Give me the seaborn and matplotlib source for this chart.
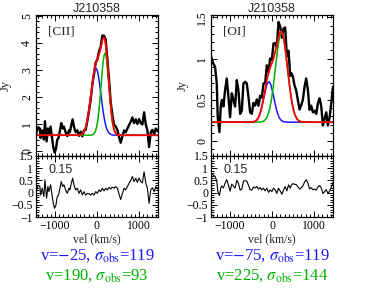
import numpy as np
import pandas as pd
import seaborn as sns
import matplotlib
matplotlib.use("Agg")
import matplotlib.pyplot as plt
from matplotlib.ticker import MultipleLocator, FuncFormatter

sns.set_style("ticks")
plt.rcParams["font.family"] = ["Liberation Serif", "DejaVu Serif"]
plt.rcParams["mathtext.fontset"] = "stix"
plt.rcParams["axes.edgecolor"] = "black"
plt.rcParams["xtick.color"] = "black"
plt.rcParams["ytick.color"] = "black"

# ---------------- data ----------------
title = "J210358"
lines = ["[CII]", "[OI]"]
rms_text = ["0.15", "0.15"]

# continuum level and Gaussian components (v, sigma_obs from the labels; amplitudes read)
cont = [0.58, 0.23]
blue_v = [-25, -75]
blue_sig = [119, 119]
blue_amp = [2.48, 0.49]
green_v = [190, 225]
green_sig = [93, 144]
green_amp = [3.04, 1.08]

# [CII] residual spectrum (data - model)
cii_vel = [-1450, -1400, -1357, -1341, -1302, -1262, -1238, -1198, -1167, -1143, -1103, -1063,
           -1040, -1008, -976, -944, -913, -881, -849, -817, -786, -746, -706,
           -667, -643, -611, -579, -548, -508, -468, -429, -389, -349, -310,
           -270, -230, -190, -151, -111, -71, -32, 8, 48, 87, 127, 167, 206,
           246, 286, 325, 365, 405, 444, 484, 524, 563, 603, 643, 683, 722,
           762, 802, 841, 881, 921, 960, 1000, 1040, 1079, 1119, 1159, 1198,
           1238, 1278, 1317, 1357, 1397, 1437, 1450]
cii_res = [0.05, 0.30, 0.25, -0.10, 0.18, -0.16, 0.52, -0.23, 0.25, 0.04, 0.32, -0.16,
           -0.44, -0.64, -0.51, -0.16, -0.10, 0.18, 0.45, 0.25, 0.32, 0.11, -0.03,
           0.18, 0.11, 0.38, 0.59, 0.32, 0.11, 0.18, -0.03, 0.11, -0.10, 0.04,
           -0.10, -0.03, -0.05, -0.10, -0.03, -0.10, 0.04, -0.03, 0.11, 0.04, 0.18, 0.07, 0.18,
           0.11, 0.21, 0.15, 0.22, 0.18, 0.25, 0.18, -0.07, -0.28, -0.05, 0.18, 0.11, 0.25,
           0.38, 0.50, 0.66, 0.45, 0.59, 0.42, 0.60, 0.45, 0.40, 0.85, 0.40, 0.18,
           -0.44, 0.11, 0.20, 0.04, 0.25, 0.15, 0.20]

# [OI] residual spectrum (data - model)
oi_vel = [-1450, -1433, -1393, -1353, -1313, -1290, -1250, -1218, -1194, -1155, -1115, -1075,
          -1036, -996, -956, -917, -877, -837, -798, -758, -718, -679, -639,
          -599, -560, -520, -480, -440, -401, -361, -321, -282, -242, -202,
          -163, -123, -83, -44, -4, 36, 75, 115, 155, 194, 234, 274, 313,
          353, 393, 433, 457, 496, 536, 575, 615, 655, 694, 734, 774, 813,
          853, 893, 932, 972, 1012, 1052, 1091, 1131, 1171, 1210, 1250, 1290,
          1329, 1369, 1409, 1450]
oi_res = [0.80, 0.77, 0.71, 0.67, 0.47, 0.06, -0.12, 0.19, 0.27, 0.19, 0.39, 0.53,
          0.31, 0.06, 0.35, 0.27, 0.19, 0.51, 0.39, 0.10, 0.14, 0.47, 0.49,
          0.47, 0.31, 0.12, 0.10, 0.23, 0.19, 0.25, 0.14, 0.21, 0.11, 0.18,
          0.07, 0.18, 0.01, 0.11, 0.04, 0.18, 0.11, -0.03, 0.18, 0.07, -0.07, 0.11, 0.25,
          0.07, 0.32, 0.18, 0.30, 0.37, 0.34, 0.33, 0.24, 0.14, 0.20, 0.27, 0.43, 0.53,
          0.39, 0.15, 0.20, 0.12, 0.14, 0.10, 0.23, 0.29, 0.19, -0.04, 0.04, 0.12,
          -0.04, 0.06, 0.23, 0.43]

vels = [cii_vel, oi_vel]
resids = [cii_res, oi_res]
top_ylims = [(-0.19, 5.04), (-0.18, 1.53)]
top_major = [1, 0.5]
top_minor = [0.2, 0.1]
xlim = (-1450, 1450)
v_lbl = [(r"v=$-$25, $\sigma_{\rm obs}$=119", r"v=190, $\sigma_{\rm obs}$=93"),
         (r"v=$-$75, $\sigma_{\rm obs}$=119", r"v=225, $\sigma_{\rm obs}$=144")]

BLUE = "#1a1aff"
GREEN = "#00b000"
RED = "#ff0000"


def gauss(v, amp, mu, sig):
    return amp * np.exp(-(np.asarray(v, float) - mu) ** 2 / (2.0 * sig ** 2))


def fmt(x, pos):
    s = "%g" % x
    return s.replace("-", "\u2212")


W, H = 373, 295
fig = plt.figure(figsize=(W / 100, H / 100), dpi=100)

left_px = [36, 211]
width_px = 122
for i in range(2):
    x0 = left_px[i] / W
    w = width_px / W
    ax = fig.add_axes([x0, 1 - 156 / H, w, (156 - 15) / H])
    axr = fig.add_axes([x0, 1 - 217 / H, w, (217 - 156) / H])

    vel = np.asarray(vels[i], float)
    res = np.asarray(resids[i], float)
    model_at = cont[i] + gauss(vel, blue_amp[i], blue_v[i], blue_sig[i]) + \
        gauss(vel, green_amp[i], green_v[i], green_sig[i])
    flux = model_at + res

    grid = np.linspace(xlim[0], xlim[1], 700)
    b = cont[i] + gauss(grid, blue_amp[i], blue_v[i], blue_sig[i])
    g = cont[i] + gauss(grid, green_amp[i], green_v[i], green_sig[i])
    r = cont[i] + gauss(grid, blue_amp[i], blue_v[i], blue_sig[i]) + \
        gauss(grid, green_amp[i], green_v[i], green_sig[i])

    df = pd.DataFrame({"vel": vel, "flux": flux, "res": res})
    sns.lineplot(data=df, x="vel", y="flux", ax=ax, color="black", lw=1.7, estimator=None)
    sns.lineplot(x=grid, y=b, ax=ax, color=BLUE, lw=1.1, estimator=None)
    sns.lineplot(x=grid, y=g, ax=ax, color=GREEN, lw=1.1, estimator=None)
    sns.lineplot(x=grid, y=r, ax=ax, color=RED, lw=1.3, estimator=None)
    sns.lineplot(data=df, x="vel", y="res", ax=axr, color="black", lw=0.8, estimator=None)

    ax.set_xlim(*xlim)
    axr.set_xlim(*xlim)
    ax.set_ylim(*top_ylims[i])
    axr.set_ylim(-1, 1.5)

    for a in (ax, axr):
        a.xaxis.set_major_locator(MultipleLocator(1000))
        a.xaxis.set_minor_locator(MultipleLocator(100))
        a.tick_params(which="both", direction="in", top=True, right=True, width=0.7)
        a.tick_params(which="major", length=4)
        a.tick_params(which="minor", length=2)
        for sp in a.spines.values():
            sp.set_linewidth(0.9)
            sp.set_color("black")
        a.set_xlabel("")
        a.set_ylabel("")
    ax.yaxis.set_major_locator(MultipleLocator(top_major[i]))
    ax.yaxis.set_minor_locator(MultipleLocator(top_minor[i]))
    ax.yaxis.set_major_formatter(FuncFormatter(fmt))
    ax.tick_params(axis="y", labelrotation=90, labelsize=8.5, pad=2)
    ax.tick_params(axis="x", labelbottom=False)
    for lab in ax.get_yticklabels():
        lab.set_va("center")
    axr.yaxis.set_major_locator(MultipleLocator(0.5))
    axr.yaxis.set_minor_locator(MultipleLocator(0.1))
    axr.yaxis.set_major_formatter(FuncFormatter(fmt))
    axr.xaxis.set_major_formatter(FuncFormatter(fmt))
    axr.tick_params(axis="both", labelsize=8.5, pad=2)

    ax.set_title(title, fontfamily=["Liberation Sans", "DejaVu Sans"], fontsize=9, pad=2)
    ax.set_ylabel("Jy", fontsize=9)
    ax.yaxis.set_label_coords(-0.2 if i == 0 else -0.18, 0.5)
    ax.text(0.1, 0.88, lines[i], transform=ax.transAxes, fontsize=9.5, va="center", ha="left")
    axr.text(0.1, 0.77, rms_text[i], transform=axr.transAxes, fontsize=9, va="center",
             ha="left", fontfamily=["Liberation Sans", "DejaVu Sans"])
    axr.set_xlabel("vel (km/s)", fontsize=8.5)
    axr.xaxis.set_label_coords(0.5, -0.27)

    cx = (left_px[i] + width_px / 2) / W
    fig.text(cx, 1 - 256 / H, v_lbl[i][0], color=BLUE, fontsize=12, ha="center", va="center")
    fig.text(cx, 1 - 276 / H, v_lbl[i][1], color=GREEN, fontsize=12, ha="center", va="center")

fig.savefig("out.png", dpi=100)
